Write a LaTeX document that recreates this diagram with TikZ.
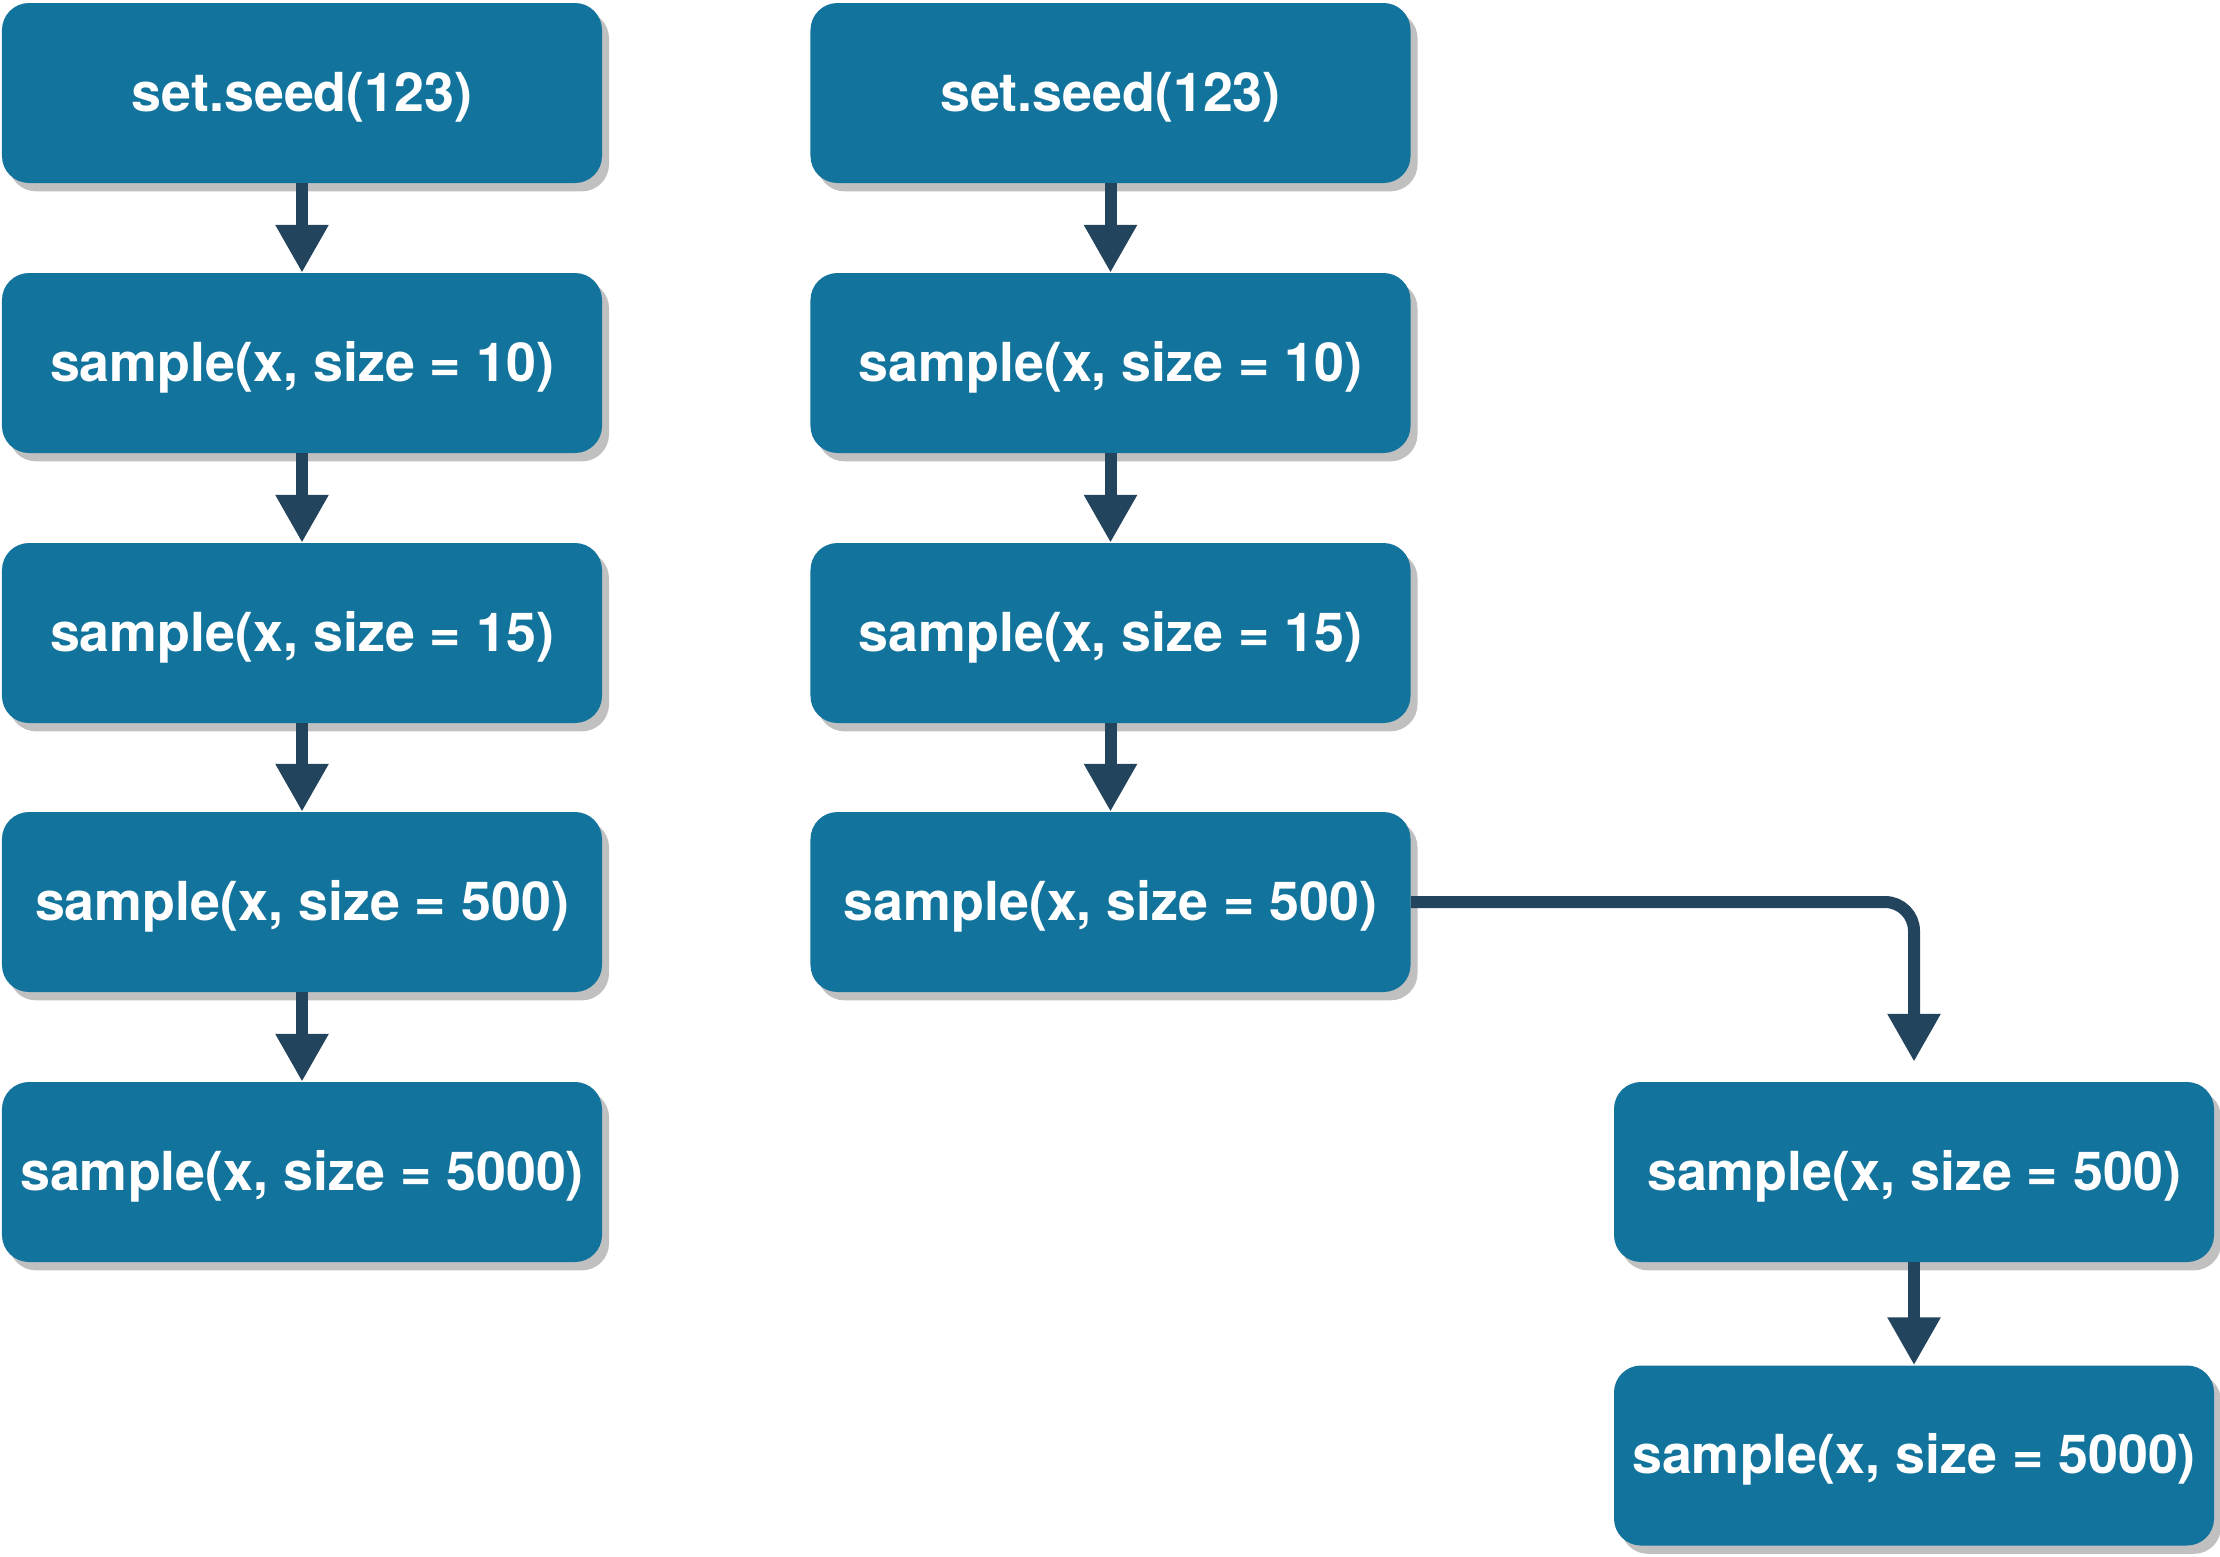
\documentclass[tikz,border=0pt]{standalone}
\usepackage{fontspec}
\setmainfont{TeX Gyre Heros}
\usetikzlibrary{arrows.meta,shadows}
\definecolor{boxblue}{HTML}{12739C}
\definecolor{linecol}{HTML}{23445D}
\definecolor{shadowgray}{HTML}{C0C0C0}
\begin{document}
\begin{tikzpicture}[x=0.03cm,y=-0.03cm,
  codebox/.style={rectangle, rounded corners=0.81cm, fill=boxblue, draw=none,
    minimum width=18cm, minimum height=5.4cm, inner sep=0pt,
    text height=1.1cm, text depth=0pt,
    text=white, font=\fontsize{45.9}{54}\selectfont\bfseries,
    drop shadow={shadow xshift=0.21cm, shadow yshift=-0.25cm, fill=shadowgray, opacity=1}},
  conn/.style={draw=linecol, line width=0.36cm,
    -{Triangle[length=1.44cm, width=1.5cm]}}]
\useasboundingbox (0,0) rectangle (2220,1556);
% left column
\node[codebox] (a1) at (302,93) {set.seed(123)};
\node[codebox] (a2) at (302,363) {sample(x, size = 10)};
\node[codebox] (a3) at (302,633) {sample(x, size = 15)};
\node[codebox] (a4) at (302,902) {sample(x, size = 500)};
\node[codebox] (a5) at (302,1172) {sample(x, size = 5000)};
% middle column
\node[codebox] (b1) at (1110.5,93) {set.seed(123)};
\node[codebox] (b2) at (1110.5,363) {sample(x, size = 10)};
\node[codebox] (b3) at (1110.5,633) {sample(x, size = 15)};
\node[codebox] (b4) at (1110.5,902) {sample(x, size = 500)};
% right column
\node[codebox] (c1) at (1914,1172) {sample(x, size = 500)};
\node[codebox] (c2) at (1914,1455.5) {sample(x, size = 5000)};
% connectors
\draw[conn] (a1.south) -- (a2.north);
\draw[conn] (a2.south) -- (a3.north);
\draw[conn] (a3.south) -- (a4.north);
\draw[conn] (a4.south) -- (a5.north);
\draw[conn] (b1.south) -- (b2.north);
\draw[conn] (b2.south) -- (b3.north);
\draw[conn] (b3.south) -- (b4.north);
\draw[conn, rounded corners=0.87cm, shorten >=0.6cm] (b4.east) -| (c1.north);
\draw[conn] (c1.south) -- (c2.north);
\end{tikzpicture}
\end{document}
